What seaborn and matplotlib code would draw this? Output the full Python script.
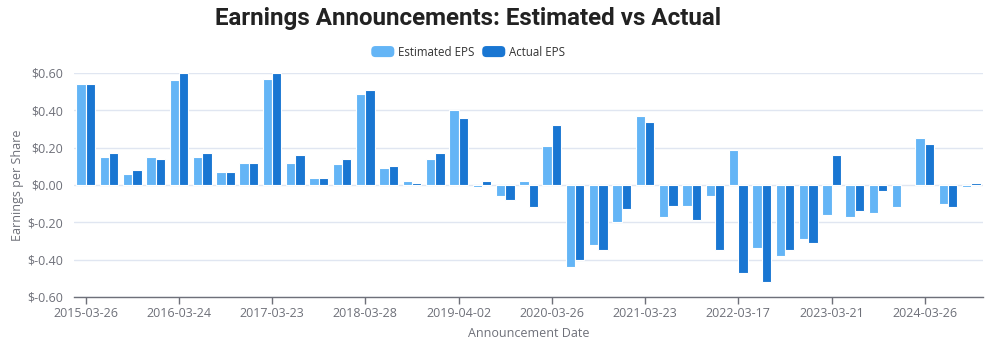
import numpy as np
import pandas as pd
import matplotlib
matplotlib.use("Agg")
import matplotlib.pyplot as plt
import seaborn as sns
from matplotlib.patches import FancyBboxPatch
from matplotlib.legend_handler import HandlerPatch
from matplotlib.ticker import FuncFormatter

# ---- data ----
tick_labels = ["2015-03-26", "2016-03-24", "2017-03-23", "2018-03-28", "2019-04-02",
               "2020-03-26", "2021-03-23", "2022-03-17", "2023-03-21", "2024-03-26"]
quarters = list(range(39))
estimated_eps = [0.54, 0.15, 0.06, 0.15, 0.56, 0.15, 0.07, 0.12,
                 0.57, 0.12, 0.04, 0.11, 0.49, 0.09, 0.02, 0.14,
                 0.40, -0.01, -0.06, 0.02, 0.21, -0.44, -0.32, -0.20,
                 0.37, -0.17, -0.11, -0.06, 0.19, -0.34, -0.38, -0.29,
                 -0.16, -0.17, -0.15, -0.12, 0.25, -0.10, -0.01]
actual_eps = [0.54, 0.17, 0.08, 0.14, 0.60, 0.17, 0.07, 0.12,
              0.60, 0.16, 0.04, 0.14, 0.51, 0.10, 0.01, 0.17,
              0.36, 0.02, -0.08, -0.12, 0.32, -0.40, -0.35, -0.13,
              0.34, -0.11, -0.19, -0.35, -0.47, -0.52, -0.35, -0.31,
              0.16, -0.14, -0.03, np.nan, 0.22, -0.12, 0.01]
series_names = ["Estimated EPS", "Actual EPS"]
colors = ["#64B5F6", "#1976D2"]

df = pd.DataFrame({
    "quarter": quarters * 2,
    "series": [series_names[0]] * len(quarters) + [series_names[1]] * len(quarters),
    "eps": estimated_eps + actual_eps,
})

sns.set_theme(style="white")
plt.rcParams["font.family"] = ["Open Sans", "DejaVu Sans"]

W, H = 991, 345
fig = plt.figure(figsize=(W / 100, H / 100), dpi=100)
L, R, T, B = 74, 983, 73, 297
ax = fig.add_axes([L / W, 1 - B / H, (R - L) / W, (B - T) / H])

sns.barplot(data=df, x="quarter", y="eps", hue="series", order=quarters,
            hue_order=series_names, palette=colors, width=0.8,
            edgecolor="#ffffff", linewidth=0.8, saturation=1, ax=ax,
            legend=False, errorbar=None)

grey = "#6E7079"
ax.set_xlim(-0.5, len(quarters) - 0.5)
ax.set_ylim(-0.6, 0.6)
ax.set_yticks(np.arange(-0.6, 0.61, 0.2))
ax.yaxis.set_major_formatter(FuncFormatter(lambda v, p: "$%.2f" % (0.0 if abs(v) < 1e-9 else v)))
ax.grid(axis="y", color="#E0E6F1", linewidth=1)
ax.set_axisbelow(True)
ax.set_xticks(quarters[::4])
ax.set_xticklabels(tick_labels)
for s in ["top", "right", "left"]:
    ax.spines[s].set_visible(False)
ax.spines["bottom"].set_color(grey)
ax.spines["bottom"].set_linewidth(1)
ax.tick_params(axis="x", colors=grey, labelsize=9, length=5, width=1, direction="out", pad=2,
               bottom=True)
ax.tick_params(axis="y", colors=grey, labelsize=9, length=0, pad=8)
for t in ax.get_xticklabels() + ax.get_yticklabels():
    t.set_color(grey)

ax.set_xlabel("Announcement Date", color=grey, fontsize=9, labelpad=5)
ax.set_ylabel("Earnings per Share", color=grey, fontsize=9)
ax.yaxis.set_label_coords((24 - L) / (R - L), 0.5)

title = fig.text(468 / W, 1 - 19 / H, "Earnings Announcements: Estimated vs Actual",
                 ha="center", va="center", fontsize=18, fontweight="bold",
                 family=["Roboto", "DejaVu Sans"], color="#222222")
# fit title width to the reference (~507 px)
renderer = fig.canvas.get_renderer()
w = title.get_window_extent(renderer).width
title.set_fontsize(18 * 507 / w)


class RoundHandler(HandlerPatch):
    def create_artists(self, legend, orig_handle, xdescent, ydescent, width, height, fontsize, trans):
        p = FancyBboxPatch((-xdescent, -ydescent), width, height,
                           boxstyle="round,pad=0,rounding_size=3",
                           facecolor=orig_handle.get_facecolor(), edgecolor="none", transform=trans)
        return [p]


handles = [plt.Rectangle((0, 0), 1, 1, facecolor=c) for c in colors]
fig.legend(handles, series_names, loc="center", bbox_to_anchor=(468 / W, 1 - 52 / H), ncol=2,
           frameon=False, fontsize=8.3, handlelength=2.0, handleheight=1.1, handletextpad=0.3,
           columnspacing=0.7, labelcolor="#333333",
           handler_map={plt.Rectangle: RoundHandler()})

fig.savefig("out.png", dpi=100)
